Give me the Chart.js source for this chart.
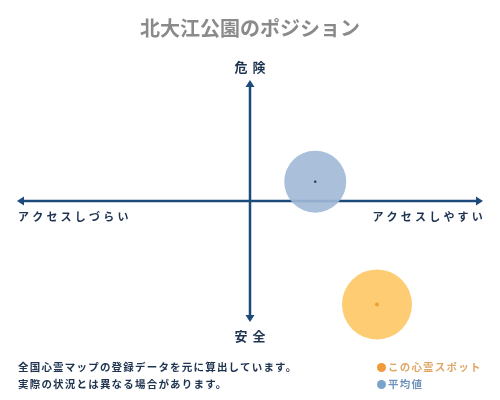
<!DOCTYPE html>
<html>
<head>
<meta charset="utf-8">
<script src="https://cdn.jsdelivr.net/npm/chart.js@4"></script>
<style>
  html,body{margin:0;padding:0;background:#fff;}
  #wrap{position:relative;width:500px;height:400px;}
  #chart{position:absolute;left:0;top:0;}
  .note{position:absolute;left:18px;top:358px;font:bold 10.5px "Noto Sans CJK JP";color:#1e3350;line-height:17px;letter-spacing:1.2px;}
  .legend{position:absolute;left:377px;top:358px;font:bold 10.5px "Noto Sans CJK JP";line-height:17px;letter-spacing:1.2px;}
  .legend span.dot{display:inline-block;width:9px;height:9px;border-radius:50%;margin-right:2px;vertical-align:-1px;}
</style>
</head>
<body>
<div id="wrap">
  <canvas id="chart" width="500" height="400"></canvas>
  <div class="note">全国心霊マップの登録データを元に算出しています。<br>実際の状況とは異なる場合があります。</div>
  <div class="legend" id="legend"></div>
</div>
<script>
// positions on a -10..10 grid (x: access, y: danger)
const seriesNames  = ['この心霊スポット', '平均値'];
const accessValues = [5.45, 2.8];
const dangerValues = [-8.55, 1.6];
const bubbleSizes  = [35, 31];
const axisLabels   = { top: '危険', bottom: '安全', left: 'アクセスしづらい', right: 'アクセスしやすい' };

const fills   = ['rgba(254,198,100,0.9)', 'rgba(160,184,214,0.9)'];
const dots    = ['#f0a030', '#223344'];
const keyCols = ['#f09a3a', '#7aa3cc'];
const textCols= ['#e0a868', '#6f93bb'];

const navy = '#1c4a7a';

function arrowHead(c, x, y, dir){
  const s = 7, w = 4.5;
  c.beginPath();
  if(dir==='left'){ c.moveTo(x,y); c.lineTo(x+s,y-w); c.lineTo(x+s,y+w); }
  if(dir==='right'){ c.moveTo(x,y); c.lineTo(x-s,y-w); c.lineTo(x-s,y+w); }
  if(dir==='up'){ c.moveTo(x,y); c.lineTo(x-w,y+s); c.lineTo(x+w,y+s); }
  if(dir==='down'){ c.moveTo(x,y); c.lineTo(x-w,y-s); c.lineTo(x+w,y-s); }
  c.closePath(); c.fill();
}

const quadrant = {
  id: 'quadrant',
  beforeDatasetsDraw(chart){
    const c = chart.ctx, a = chart.chartArea;
    const cx = chart.scales.x.getPixelForValue(0);
    const cy = chart.scales.y.getPixelForValue(0);
    c.save();
    c.strokeStyle = navy; c.fillStyle = navy; c.lineWidth = 2.5;
    c.beginPath();
    c.moveTo(a.left+3, cy); c.lineTo(a.right-3, cy);
    c.moveTo(cx, a.top+3); c.lineTo(cx, a.bottom-3);
    c.stroke();
    arrowHead(c, a.left, cy, 'left');
    arrowHead(c, a.right, cy, 'right');
    arrowHead(c, cx, a.top, 'up');
    arrowHead(c, cx, a.bottom, 'down');

    c.fillStyle = '#1e3350';
    c.textBaseline = 'middle';
    c.font = 'bold 13px "Noto Sans CJK JP"';
    c.letterSpacing = '5px';
    c.textAlign = 'center';
    c.fillText(axisLabels.top, cx+2.5, a.top-13);
    c.fillText(axisLabels.bottom, cx+2.5, a.bottom+14);
    c.font = 'bold 11px "Noto Sans CJK JP"';
    c.letterSpacing = '3.2px';
    c.textAlign = 'left';
    c.fillText(axisLabels.left, a.left+1, cy+16);
    c.textAlign = 'right';
    c.fillText(axisLabels.right, a.right+3, cy+16);
    c.restore();
  },
  afterDatasetsDraw(chart){
    const c = chart.ctx;
    c.save();
    chart.data.datasets.forEach((ds, i) => {
      chart.getDatasetMeta(i).data.forEach(el => {
        c.fillStyle = dots[i];
        c.beginPath(); c.arc(el.x, el.y, i===0 ? 2 : 1.2, 0, Math.PI*2); c.fill();
      });
    });
    c.restore();
  }
};

new Chart(document.getElementById('chart'), {
  type: 'bubble',
  data: {
    datasets: seriesNames.map((name, i) => ({
      label: name,
      data: [{ x: accessValues[i], y: dangerValues[i], r: bubbleSizes[i] }],
      backgroundColor: fills[i],
      borderWidth: 0,
      hoverRadius: 0,
      clip: false
    }))
  },
  options: {
    responsive: false,
    animation: false,
    events: [],
    layout: { autoPadding: false, padding: { left: 17, right: 17, top: 0, bottom: 78 } },
    scales: {
      x: { display: false, min: -10, max: 10 },
      y: { display: false, min: -10, max: 10 }
    },
    plugins: {
      legend: { display: false },
      tooltip: { enabled: false },
      title: {
        display: true,
        text: '北大江公園のポジション',
        color: '#8a8a8a',
        font: { family: '"Noto Sans CJK JP"', size: 20, weight: 'bold', lineHeight: 1.2 },
        padding: { top: 16, bottom: 40 }
      }
    }
  },
  plugins: [quadrant]
});

document.getElementById('legend').innerHTML = seriesNames.map((n, i) =>
  `<div style="color:${textCols[i]}"><span class="dot" style="background:${keyCols[i]}"></span>${n}</div>`
).join('');
</script>
</body>
</html>
